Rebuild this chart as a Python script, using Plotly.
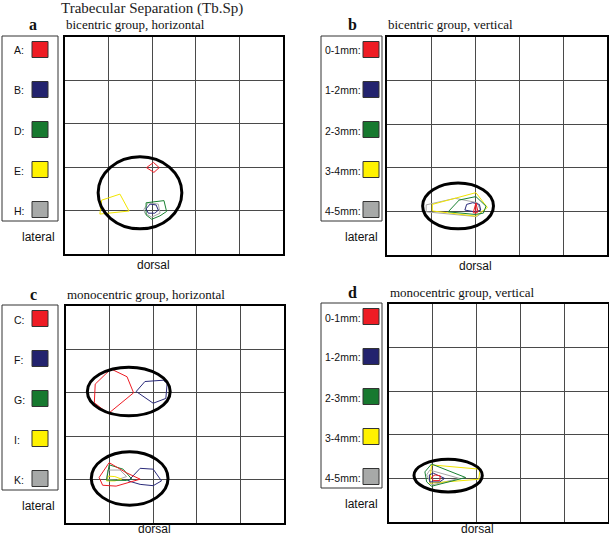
import plotly.graph_objects as go

W, H = 609, 538

# ---------------- data (grid units, x: 0..5 left->right, y: 0..5 top->bottom) -------------
title_text = "Trabecular Separation (Tb.Sp)"
panel_letters = ["a", "b", "c", "d"]
panel_titles = ["bicentric group, horizontal", "bicentric group, vertical",
                "monocentric group, horizontal", "monocentric group, vertical"]
legend_labels_a = ["A:", "B:", "D:", "E:", "H:"]
legend_labels_b = ["0-1mm:", "1-2mm:", "2-3mm:", "3-4mm:", "4-5mm:"]
legend_labels_c = ["C:", "F:", "G:", "I:", "K:"]
legend_labels_d = ["0-1mm:", "1-2mm:", "2-3mm:", "3-4mm:", "4-5mm:"]
series_colors = ["#ee1c24", "#2a2a7a", "#1a8232", "#f2e600", "#a8a8a8"]
swatch_colors = ["#ee1c24", "#23236e", "#17792f", "#fff200", "#a7a9a8"]

# panel a
a_red_x = [2.03, 2.16, 2.04, 1.87, 2.03]
a_red_y = [2.89, 3.01, 3.12, 3.01, 2.89]
a_navy_x = [1.86, 1.95, 2.09, 2.14, 2.06, 1.91, 1.86]
a_navy_y = [3.96, 3.85, 3.87, 3.99, 4.06, 4.06, 3.96]
a_green_x = [1.86, 2.27, 2.33, 2.18, 1.99, 1.86, 1.86]
a_green_y = [3.82, 3.77, 4.02, 4.12, 4.20, 4.10, 3.82]
a_yellow_x = [0.84, 1.26, 1.47, 0.80, 0.84]
a_yellow_y = [3.76, 3.62, 4.01, 4.08, 3.76]
a_gray_x = [1.81, 1.91, 2.14, 2.18, 1.99, 1.83, 1.81]
a_gray_y = [3.97, 3.82, 3.85, 4.06, 4.15, 4.06, 3.97]
a_ellipses = [[0.76, 2.76, 2.68, 4.42]]

# panel b
b_red_x = [1.96, 2.02, 2.07, 2.02, 1.96, None, 2.02, 2.02]
b_red_y = [4.03, 3.81, 4.01, 4.04, 4.03, None, 3.81, 4.04]
b_navy_x = [1.77, 1.81, 1.95, 2.10, 2.13, 2.00, 1.77]
b_navy_y = [3.97, 3.84, 3.80, 3.84, 3.97, 4.01, 3.97]
b_green_x = [1.39, 1.64, 2.02, 2.25, 2.19, 2.00, 1.39]
b_green_y = [4.01, 3.74, 3.66, 3.88, 4.04, 4.07, 4.01]
b_yellow_x = [1.03, 2.02, 2.28, 2.02, 1.03, 1.03]
b_yellow_y = [3.84, 3.57, 3.91, 4.11, 3.99, 3.84]
b_gray_x = [0.89, 1.55, 2.05, 2.15, 2.04, 0.89, 0.89]
b_gray_y = [3.85, 3.70, 3.80, 4.04, 4.12, 4.01, 3.85]
b_ellipses = [[0.81, 3.35, 2.42, 4.40]]

# panel c
c_red_up_x = [0.67, 1.03, 1.40, 1.55, 0.97, 0.65, 0.67]
c_red_up_y = [1.80, 1.45, 1.63, 2.00, 2.48, 2.23, 1.80]
c_navy_up_x = [1.61, 1.81, 2.23, 2.32, 2.29, 2.00, 1.61]
c_navy_up_y = [1.97, 1.74, 1.71, 1.78, 2.13, 2.24, 1.97]
c_red_x = [0.76, 0.99, 1.38, 1.70, 1.15, 0.84, 0.76]
c_red_y = [3.95, 3.61, 3.84, 3.99, 4.15, 4.13, 3.95]
c_navy_x = [1.43, 1.70, 2.00, 2.19, 2.00, 1.70, 1.43]
c_navy_y = [4.03, 3.74, 3.76, 4.03, 4.14, 4.11, 4.03]
c_green_x = [0.93, 0.99, 1.31, 1.51, 1.39, 0.93]
c_green_y = [4.01, 3.66, 3.76, 3.99, 4.02, 4.01]
c_yellow_x = [0.93, 0.97, 1.12, 1.28, 1.12, 0.93]
c_yellow_y = [4.03, 3.92, 3.93, 3.99, 4.03, 4.03]
c_gray_x = [0.93, 0.96, 1.24, 1.39, 1.16, 0.93]
c_gray_y = [3.99, 3.78, 3.78, 3.93, 4.01, 3.99]
c_ellipses = [[0.49, 1.41, 2.39, 2.53], [0.58, 3.36, 2.34, 4.59]]

# panel d
d_red_x = [0.97, 1.05, 1.17, 1.16, 1.01, 0.97]
d_red_y = [3.97, 3.92, 3.94, 4.05, 4.05, 3.97]
d_navy_x = [0.92, 1.01, 1.27, 1.16, 0.93, 0.92]
d_navy_y = [3.92, 3.88, 4.00, 4.08, 4.08, 3.92]
d_green_x = [0.97, 0.82, 0.86, 0.97, 1.75, 0.97]
d_green_y = [3.67, 3.85, 4.08, 4.18, 3.98, 3.67]
d_yellow_x = [0.97, 2.08, 2.05, 0.93, 0.97]
d_yellow_y = [3.69, 3.79, 4.02, 4.11, 3.69]
d_gray_x = [0.86, 0.93, 1.61, 0.97, 0.86]
d_gray_y = [3.92, 3.81, 4.00, 4.15, 3.92]
d_ellipses = [[0.57, 3.56, 2.13, 4.31]]

# ---------------- layout helpers (pixels -> paper) ----------------
def X(px):
    return px / W

def Y(py):
    return 1 - py / H

# panel boxes in pixels: left, top, right, bottom
panel_px = [(65, 37, 283, 254), (387, 37, 607, 255), (66, 306, 284, 523), (389, 304, 608, 522)]
dorsal_py = [265, 266, 529, 529]

fig = go.Figure()

panels = [
    [(a_red_x, a_red_y), (a_navy_x, a_navy_y), (a_green_x, a_green_y), (a_yellow_x, a_yellow_y), (a_gray_x, a_gray_y)],
    [(b_red_x, b_red_y), (b_navy_x, b_navy_y), (b_green_x, b_green_y), (b_yellow_x, b_yellow_y), (b_gray_x, b_gray_y)],
    [(c_red_up_x, c_red_up_y), (c_navy_up_x, c_navy_up_y), (c_red_x, c_red_y), (c_navy_x, c_navy_y),
     (c_green_x, c_green_y), (c_yellow_x, c_yellow_y), (c_gray_x, c_gray_y)],
    [(d_red_x, d_red_y), (d_navy_x, d_navy_y), (d_green_x, d_green_y), (d_yellow_x, d_yellow_y), (d_gray_x, d_gray_y)],
]
panel_color_idx = [[0, 1, 2, 3, 4], [0, 1, 2, 3, 4], [0, 1, 0, 1, 2, 3, 4], [0, 1, 2, 3, 4]]
ellipses = [a_ellipses, b_ellipses, c_ellipses, d_ellipses]
legend_sets = [legend_labels_a, legend_labels_b, legend_labels_c, legend_labels_d]

shapes = []
annotations = []

for i in range(4):
    l, t, r, b = panel_px[i]
    sfx = "" if i == 0 else str(i + 1)
    xa = "xaxis" + sfx
    ya = "yaxis" + sfx
    fig.layout[xa] = dict(domain=[X(l), X(r)], range=[0, 5], dtick=1, tick0=0,
                          showgrid=True, gridcolor="#4a4a4a", gridwidth=1.3,
                          showline=True, linecolor="black", linewidth=2, mirror=True,
                          zeroline=False, showticklabels=False, ticks="",
                          anchor="y" + sfx, fixedrange=True)
    fig.layout[ya] = dict(domain=[Y(b), Y(t)], range=[5, 0], dtick=1, tick0=0,
                          showgrid=True, gridcolor="#4a4a4a", gridwidth=1.3,
                          showline=True, linecolor="black", linewidth=2, mirror=True,
                          zeroline=False, showticklabels=False, ticks="",
                          anchor="x" + sfx, fixedrange=True)
    order = list(range(len(panels[i])))[::-1]
    for k in order:
        xs, ys = panels[i][k]
        fig.add_trace(go.Scatter(x=xs, y=ys, mode="lines",
                                 line=dict(color=series_colors[panel_color_idx[i][k]], width=1),
                                 xaxis="x" + sfx, yaxis="y" + sfx, showlegend=False,
                                 hoverinfo="skip"))
    for (x0, y0, x1, y1) in ellipses[i]:
        shapes.append(dict(type="circle", xref="x" + sfx, yref="y" + sfx,
                           x0=x0, y0=y0, x1=x1, y1=y1,
                           line=dict(color="black", width=3)))

    top_off = t
    if i in (0, 2):
        bx0, bx1, sx0, lab_x, lat_x = 2, 58, 32, 12, 38
    else:
        bx0, bx1, sx0, lab_x, lat_x = 321, 382, 363, 323, 361
    shapes.append(dict(type="rect", xref="paper", yref="paper",
                       x0=X(bx0), x1=X(bx1), y0=Y(top_off - 1), y1=Y(top_off + 184),
                       line=dict(color="#333333", width=1)))
    for k, lab in enumerate(legend_sets[i]):
        cy = top_off + 12.5 + 40 * k
        shapes.append(dict(type="rect", xref="paper", yref="paper",
                           x0=X(sx0), x1=X(sx0 + 16), y0=Y(cy + 8), y1=Y(cy - 8),
                           fillcolor=swatch_colors[k], line=dict(color="#333333", width=1)))
        annotations.append(dict(x=X(lab_x), y=Y(cy + 1), xref="paper", yref="paper",
                                text=lab, showarrow=False, xanchor="left", yanchor="middle",
                                font=dict(family="Liberation Sans, Arial", size=10.5, color="#111")))
    annotations.append(dict(x=X(lat_x), y=Y(top_off + 200), xref="paper", yref="paper",
                            text="lateral", showarrow=False, xanchor="center", yanchor="middle",
                            font=dict(family="Liberation Sans, Arial", size=12, color="#111")))
    annotations.append(dict(x=X(l + 88), y=Y(dorsal_py[i]), xref="paper", yref="paper",
                            text="dorsal", showarrow=False, xanchor="center", yanchor="middle",
                            font=dict(family="Liberation Sans, Arial", size=12, color="#111")))
    letter_x = 33 if i in (0, 2) else 352
    annotations.append(dict(x=X(letter_x), y=Y(t - 12), xref="paper", yref="paper",
                            text="<b>" + panel_letters[i] + "</b>", showarrow=False,
                            xanchor="center", yanchor="middle",
                            font=dict(family="Liberation Serif, Times New Roman", size=16, color="#111")))
    annotations.append(dict(x=X(l - 1), y=Y(t - 12), xref="paper", yref="paper",
                            text=panel_titles[i], showarrow=False,
                            xanchor="left", yanchor="middle",
                            font=dict(family="Liberation Serif, Times New Roman", size=13, color="#111")))

annotations.append(dict(x=X(152), y=Y(8), xref="paper", yref="paper", text=title_text,
                        showarrow=False, xanchor="center", yanchor="middle",
                        font=dict(family="Liberation Serif, Times New Roman", size=15, color="#222")))

fig.update_layout(width=W, height=H, margin=dict(l=0, r=0, t=0, b=0),
                  paper_bgcolor="white", plot_bgcolor="white",
                  shapes=shapes, annotations=annotations, showlegend=False)

fig.write_html("out.html", config={"displayModeBar": False},
               post_script="document.body.style.margin='0';document.body.style.overflow='hidden';")
